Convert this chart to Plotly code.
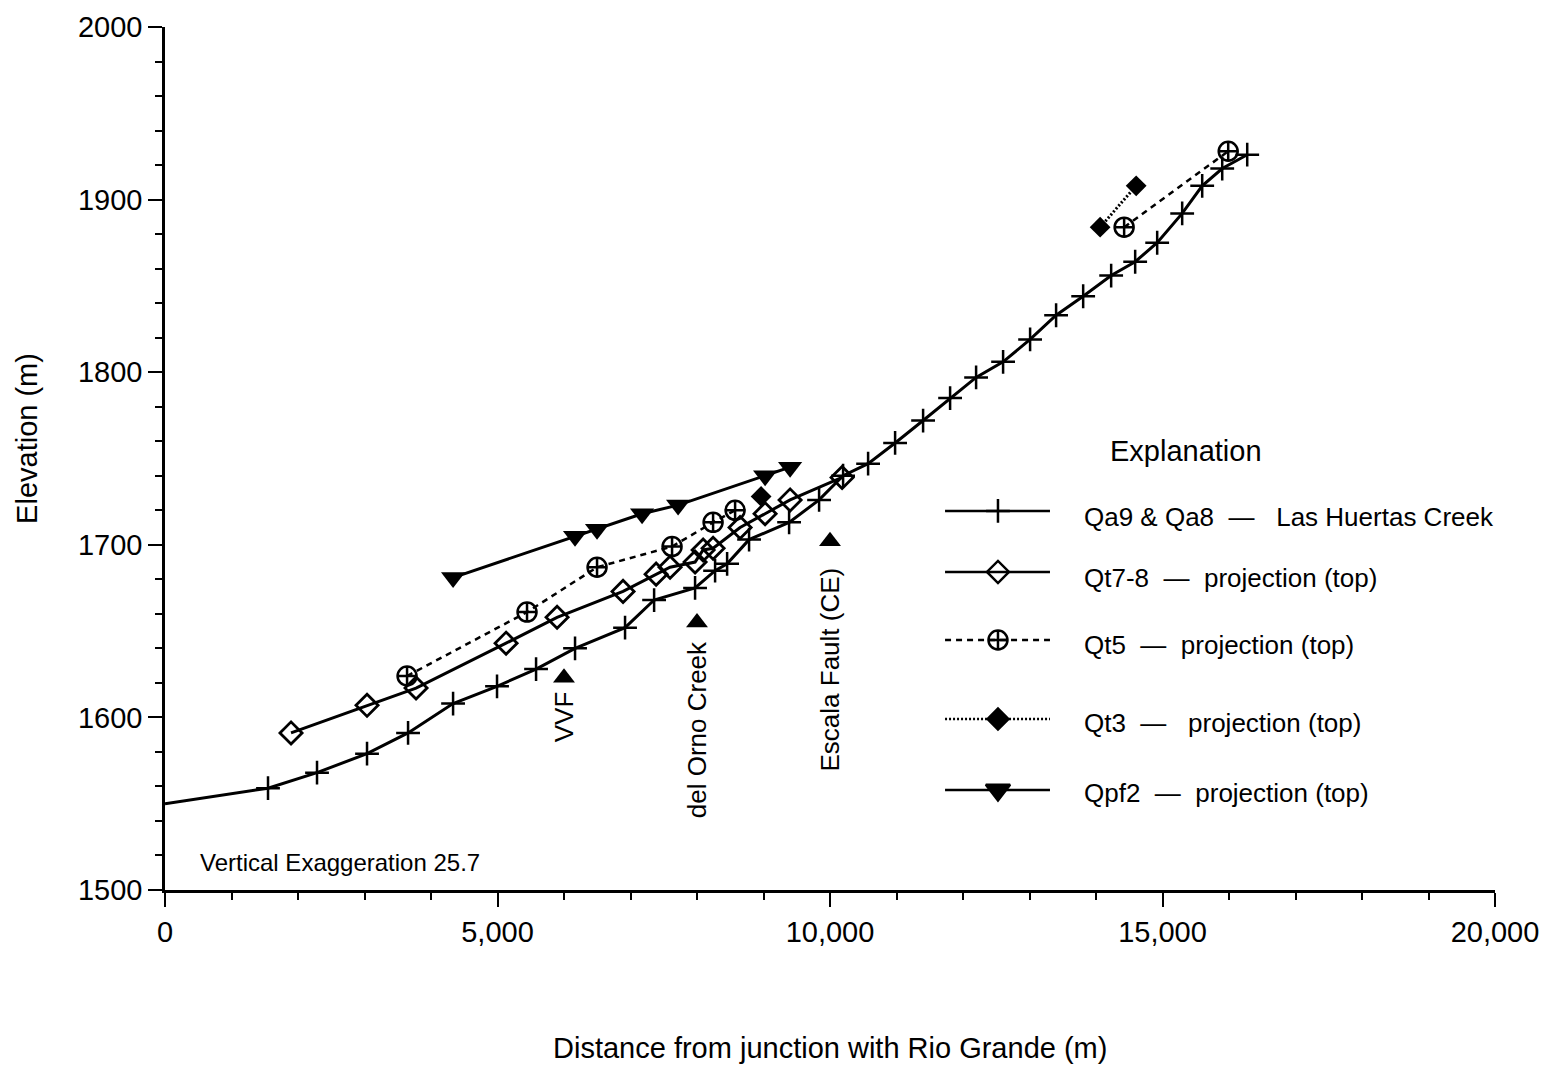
import plotly.graph_objects as go

# ---------------- data ----------------
qa_x = [0, 1549, 2286, 3038, 3655, 4332, 4993, 5580, 6166, 6918, 7355, 7971, 8272, 8453,
        8783, 9385, 9836, 10197, 10573, 10979, 11400, 11806, 12197, 12603, 13009, 13400,
        13807, 14228, 14589, 14920, 15296, 15597, 15898, 16274]
qa_y = [1550, 1559, 1568, 1579, 1591, 1608, 1618, 1628, 1640, 1652, 1668, 1675, 1685, 1689,
        1703, 1713, 1726, 1740, 1747, 1759, 1772, 1785, 1797, 1806, 1819, 1833,
        1844, 1856, 1864, 1875, 1892, 1908, 1918, 1926]

qt78_x = [1895, 3038, 3775, 5129, 5896, 6888, 7385, 7595, 7971, 8092, 8242, 8648, 9024, 9400, 10182]
qt78_y = [1591, 1607, 1617, 1643, 1658, 1673, 1683, 1687, 1690, 1697, 1698, 1710, 1718, 1726, 1739]

qt5_x = [3640, 5444, 6497, 7625, 8242, 8573, None, 14423, 15988]
qt5_y = [1624, 1661, 1687, 1699, 1713, 1720, None, 1884, 1928]

qt3_x = [8964, None, 14062, 14604]
qt3_y = [1728, None, 1884, 1908]

qpf2_x = [4332, 6166, 6497, 7174, 7716, 9024, 9400]
qpf2_y = [1681, 1705, 1709, 1718, 1723, 1740, 1745]

feature_names = ["VVF", "del Orno Creek", "Escala Fault (CE)"]
feature_x = [6000, 8000, 10000]
feature_y = [1623, 1655, 1702]
feature_label_top = [1616, 1645, 1688]

x_tickvals = [0, 5000, 10000, 15000, 20000]
x_ticktext = ["0", "5,000", "10,000", "15,000", "20,000"]

legend_labels = [
    "Qa9 &amp; Qa8  \u2014   Las Huertas Creek",
    "Qt7-8  \u2014  projection (top)",
    "Qt5  \u2014  projection (top)",
    "Qt3  \u2014   projection (top)",
    "Qpf2  \u2014  projection (top)",
]

# ---------------- figure ----------------
FONT = "Liberation Sans, Arial, Helvetica, sans-serif"
K = "black"
LW = 3

fig = go.Figure()

# Qa9 & Qa8 line + markers (no marker at origin)
fig.add_trace(go.Scatter(x=qa_x, y=qa_y, mode="lines",
                         line=dict(color=K, width=LW), showlegend=False))
fig.add_trace(go.Scatter(x=qa_x[1:], y=qa_y[1:], mode="markers",
                         marker=dict(symbol="cross-thin", size=17, line=dict(color=K, width=2.5)),
                         showlegend=False))
# Qt7-8
fig.add_trace(go.Scatter(x=qt78_x, y=qt78_y, mode="lines+markers",
                         line=dict(color=K, width=LW),
                         marker=dict(symbol="diamond-open", size=17, color=K, line=dict(color=K, width=2.8)),
                         showlegend=False))
# Qt5
fig.add_trace(go.Scatter(x=qt5_x, y=qt5_y, mode="lines+markers", connectgaps=False,
                         line=dict(color=K, width=2.5, dash="6px,5px"),
                         marker=dict(symbol="circle-cross-open", size=19, color=K, line=dict(color=K, width=2.5)),
                         showlegend=False))
# Qt3
fig.add_trace(go.Scatter(x=qt3_x, y=qt3_y, mode="lines+markers", connectgaps=False,
                         line=dict(color=K, width=LW, dash="2px,2px"),
                         marker=dict(symbol="diamond", size=16, color=K),
                         showlegend=False))
# Qpf2
fig.add_trace(go.Scatter(x=qpf2_x, y=qpf2_y, mode="lines+markers",
                         line=dict(color=K, width=LW),
                         marker=dict(symbol="triangle-down", size=21, color=K),
                         showlegend=False))
# feature markers
fig.add_trace(go.Scatter(x=feature_x, y=feature_y, mode="markers",
                         marker=dict(symbol="triangle-up", size=19, color=K),
                         showlegend=False))

annotations = []
for name, fx, fy in zip(feature_names, feature_x, feature_label_top):
    annotations.append(dict(x=fx, y=fy, xref="x", yref="y", text=name, showarrow=False,
                            textangle=-90, xanchor="center", yanchor="top",
                            font=dict(family=FONT, size=26, color=K)))

# ---------------- custom explanation (legend) ----------------
leg_x0, leg_x1, leg_xm, leg_tx = 0.5865, 0.6654, 0.6263, 0.6895
leg_rows = [0.4392, 0.3685, 0.2897, 0.1981, 0.1159]
leg_text_rows = [0.4322, 0.3615, 0.2839, 0.1935, 0.1124]
leg_dash = ["solid", "solid", "6px,5px", "2px,2px", "solid"]
leg_symbols = ["cross-thin", "diamond-open", "circle-cross-open", "diamond", "triangle-down"]
leg_sizes = [17, 17, 19, 16, 21]

shapes = []
for ry, d in zip(leg_rows, leg_dash):
    shapes.append(dict(type="line", xref="paper", yref="paper", x0=leg_x0, x1=leg_x1, y0=ry, y1=ry,
                       line=dict(color=K, width=2.5, dash=d)))

for ry, sym, sz in zip(leg_rows, leg_symbols, leg_sizes):
    fig.add_trace(go.Scatter(x=[leg_xm], y=[ry], xaxis="x2", yaxis="y2", mode="markers",
                             marker=dict(symbol=sym, size=sz, color=K,
                                         line=dict(color=K, width=2.5)),
                             showlegend=False, hoverinfo="skip"))

for ty, lab in zip(leg_text_rows, legend_labels):
    annotations.append(dict(x=leg_tx, y=ty, xref="paper", yref="paper", text=lab, showarrow=False,
                            xanchor="left", yanchor="middle",
                            font=dict(family=FONT, size=26, color=K)))

annotations.append(dict(x=0.7677, y=0.5087, xref="paper", yref="paper", text="Explanation",
                        showarrow=False, xanchor="center", yanchor="middle",
                        font=dict(family=FONT, size=29, color=K)))
annotations.append(dict(x=0.0248, y=0.0313, xref="paper", yref="paper",
                        text="Vertical Exaggeration 25.7", showarrow=False,
                        xanchor="left", yanchor="middle",
                        font=dict(family=FONT, size=24, color=K)))

# axis titles
annotations.append(dict(x=0.5, y=-0.183, xref="paper", yref="paper",
                        text="Distance from junction with Rio Grande (m)", showarrow=False,
                        xanchor="center", yanchor="middle",
                        font=dict(family=FONT, size=29, color=K)))
annotations.append(dict(x=-0.1038, y=0.5238, xref="paper", yref="paper",
                        text="Elevation (m)", showarrow=False, textangle=-90,
                        xanchor="center", yanchor="middle",
                        font=dict(family=FONT, size=29, color=K)))

fig.update_layout(
    width=1541, height=1058,
    margin=dict(l=157, r=54, t=19, b=176, autoexpand=False),
    paper_bgcolor="white", plot_bgcolor="white",
    font=dict(family=FONT, size=29, color=K),
    showlegend=False,
    shapes=shapes,
    annotations=annotations,
    xaxis=dict(range=[0, 20000], tickvals=x_tickvals, ticktext=x_ticktext,
               ticks="outside", ticklen=14, tickwidth=2, tickcolor=K,
               minor=dict(dtick=1000, ticks="outside", ticklen=7, tickwidth=2, tickcolor=K),
               showline=True, linecolor=K, linewidth=2.5, showgrid=False, zeroline=False,
               automargin=False, tickfont=dict(size=29)),
    yaxis=dict(range=[1500, 2000], dtick=100, tick0=1500,
               ticks="outside", ticklen=14, tickwidth=2, tickcolor=K,
               minor=dict(dtick=20, ticks="outside", ticklen=7, tickwidth=2, tickcolor=K),
               showline=True, linecolor=K, linewidth=2.5, showgrid=False, zeroline=False,
               automargin=False, tickfont=dict(size=29)),
    xaxis2=dict(overlaying="x", range=[0, 1], visible=False, fixedrange=True),
    yaxis2=dict(overlaying="y", range=[0, 1], visible=False, fixedrange=True),
)

fig.write_html("out.html")
